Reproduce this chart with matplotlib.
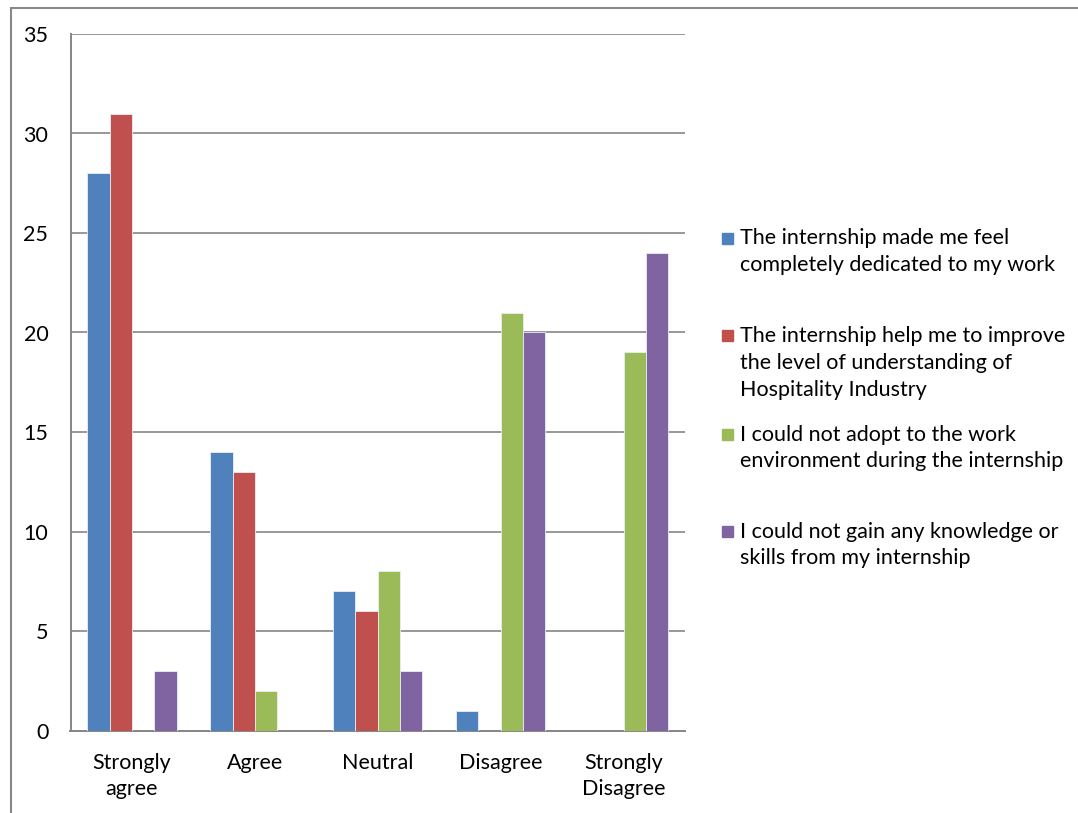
import matplotlib
matplotlib.use("Agg")
import matplotlib.pyplot as plt
from matplotlib.patches import Rectangle
import numpy as np

categories = ["Strongly\nagree", "Agree", "Neutral", "Disagree", "Strongly\nDisagree"]
series_labels = [
    "The internship made me feel\ncompletely dedicated to my work",
    "The internship help me to improve\nthe level of understanding of\nHospitality Industry",
    "I could not adopt to the work\nenvironment during the internship",
    "I could not gain any knowledge or\nskills from my internship",
]
dedicated = [28, 14, 7, 1, 0]
understanding = [31, 13, 6, 0, 0]
not_adopt = [0, 2, 8, 21, 19]
no_knowledge = [3, 0, 3, 20, 24]
series_values = [dedicated, understanding, not_adopt, no_knowledge]
colors = ["#4F81BD", "#C0504D", "#9BBB59", "#8064A2"]
y_ticks = [0, 5, 10, 15, 20, 25, 30, 35]

plt.rcParams['font.family'] = ['Lato', 'DejaVu Sans']
FS = 15.5
W, H = 1078, 813
fig = plt.figure(figsize=(W / 100, H / 100), dpi=100)
ax = fig.add_axes([70.5 / W, 1 - 730.5 / H, (685 - 70.5) / W, (730.5 - 34) / H])

x = np.arange(len(categories))
bw = 1 / 5.5
for i, (vals, c) in enumerate(zip(series_values, colors)):
    ax.bar(x + (i - 1.5) * bw, vals, width=bw, color=c, edgecolor="#e8eef5",
           linewidth=0.6, zorder=3)

ax.set_xlim(-0.5, len(categories) - 0.5)
ax.set_ylim(0, 35)
ax.set_yticks(y_ticks)
ax.set_yticklabels([str(t) for t in y_ticks])
ax.set_xticks(x)
ax.set_xticklabels(categories, linespacing=1.42)
ax.tick_params(axis='both', length=0, labelsize=FS, colors="black")
ax.tick_params(axis='y', pad=16)
ax.tick_params(axis='x', pad=16)
ax.yaxis.grid(True, color="#868686", linewidth=1.2, zorder=0)
for s in ["top", "right"]:
    ax.spines[s].set_visible(False)
for s in ["left", "bottom"]:
    ax.spines[s].set_color("#868686")
    ax.spines[s].set_linewidth(1.4)

# legend, drawn manually in figure pixel positions
leg_y = [251.5, 363, 448, 545]
for lab, c, yc in zip(series_labels, colors, leg_y):
    nlines = lab.count("\n") + 1
    first_line = yc - (nlines - 1) * 27.8 / 2
    fig.patches.append(Rectangle((722 / W, 1 - (first_line + 6) / H), 11 / W, 11 / H,
                                 transform=fig.transFigure, color=c))
    fig.text(740 / W, 1 - yc / H, lab, fontsize=FS, va="center", ha="left",
             linespacing=1.42)

# outer chart border
fig.patches.append(Rectangle((11 / W, -0.1), 1.2, 1 - 8 / H + 0.1, transform=fig.transFigure,
                             fill=False, edgecolor="#888888", linewidth=1.5))

fig.savefig("out.png", dpi=100)
